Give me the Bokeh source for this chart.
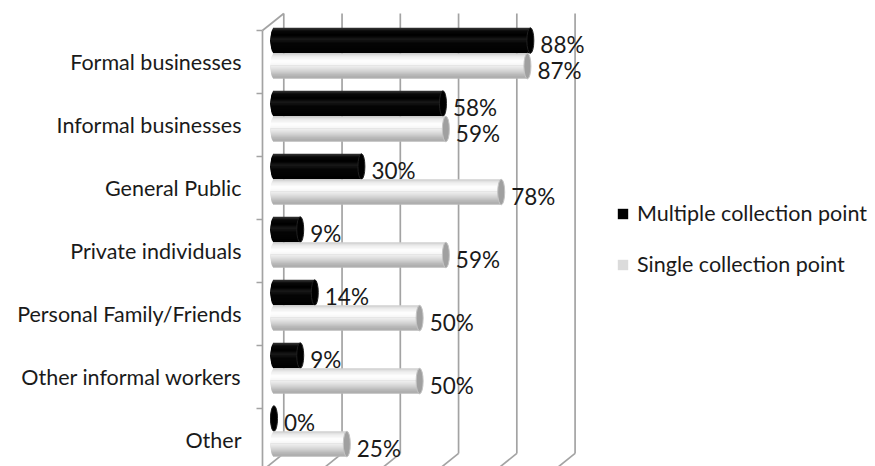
import numpy as np
from bokeh.plotting import figure
from bokeh.models import Range1d, FixedTicker, ColumnDataSource, Legend, LegendItem
from bokeh.core.properties import value
from bokeh.embed import file_html
from bokeh.resources import INLINE

# ---------------- data ----------------
categories = ["Formal businesses", "Informal businesses", "General Public",
              "Private individuals", "Personal Family/Friends",
              "Other informal workers", "Other"]
multiple = [88, 58, 30, 9, 14, 9, 0]
single = [87, 59, 78, 59, 50, 50, 25]
series_names = ["Multiple collection point", "Single collection point"]
grid_values = [0, 20, 40, 60, 80, 100]

# ---------------- style ----------------
FONT = "Lato"
TXT = "#1a1a1a"
GRID = "#a3a3a3"
BAR_H = 0.405
CENTER = [0.16, 0.565]          # bar centre inside a category band
CAP_A = 1.2                      # half width of end ellipse (x units)
BACK_DX, FRONT_DX = 3.36, -3.95  # 3-D depth offsets (x units)
BACK_TOP, BACK_BOTTOM, DEPTH_Y = -0.27, 6.714, 0.27
N = 24

black_stops = [(0.0, "#3a3a3a"), (0.12, "#080808"), (0.3, "#000000"),
               (0.45, "#1a1a1a"), (0.6, "#050505"), (1.0, "#000000")]
gray_stops = [(0.0, "#cccccc"), (0.12, "#ebebeb"), (0.3, "#ffffff"),
              (0.45, "#f6f6f6"), (0.65, "#dadada"), (0.85, "#b8b8b8"),
              (0.95, "#aaaaaa"), (1.0, "#c0c0c0")]
cap_colors = ["#000000", "#a0a0a0"]
cap_lines = ["#202020", "#c4c4c4"]
legend_colors = ["#000000", "#d9d9d9"]


def hex2rgb(c):
    return np.array([int(c[1:3], 16), int(c[3:5], 16), int(c[5:7], 16)])


def shade(stops, t):
    ts = [s[0] for s in stops]
    rgb = np.array([hex2rgb(c) for _, c in stops])
    out = [int(round(np.interp(t, ts, rgb[:, k]))) for k in range(3)]
    return "#%02x%02x%02x" % tuple(out)


p = figure(width=875, height=466, output_backend="svg", toolbar_location=None,
           x_range=Range1d(-4.634, 206.49), y_range=Range1d(6.921, -0.476),
           x_axis_location=None, min_border_left=260, min_border_right=0,
           min_border_top=0, min_border_bottom=0)
p.outline_line_color = None
p.xgrid.visible = False
p.ygrid.visible = False
p.background_fill_color = "white"

# ---------------- walls / gridlines ----------------
gx0, gy0, gx1, gy1 = [], [], [], []
for g in grid_values:
    gx0 += [g + BACK_DX, g + BACK_DX]
    gy0 += [BACK_TOP, BACK_BOTTOM]
    gx1 += [g + BACK_DX, g + FRONT_DX]
    gy1 += [BACK_BOTTOM, BACK_BOTTOM + DEPTH_Y]
gx0 += [grid_values[0] + BACK_DX, FRONT_DX]
gy0 += [BACK_TOP, 0]
gx1 += [FRONT_DX, FRONT_DX]
gy1 += [0, len(categories) + 0.2]
p.segment(x0=gx0, y0=gy0, x1=gx1, y1=gy1, line_color=GRID, line_width=1.7)

# ---------------- cylinder bars ----------------
u = (np.arange(N) + 0.5) / N
edges = np.arange(N) / N
order = [i for i in range(N // 2)] + [i for i in range(N - 1, N // 2 - 1, -1)]
legend_idx = []
bar_renderers = []
for s, (vals, stops) in enumerate([(multiple, black_stops), (single, gray_stops)]):
    ys, hs, lefts, rights, cols = [], [], [], [], []
    for g, v in enumerate(vals):
        yc = g + CENTER[s]
        top = yc - BAR_H / 2
        mid = yc
        for i in order:
            if i < N // 2:
                a, b = top + edges[i] * BAR_H, mid + 0.01
            else:
                a, b = mid - 0.01, top + (edges[i] + 1.0 / N) * BAR_H
            ys.append((a + b) / 2)
            hs.append(b - a)
            lefts.append(-CAP_A * np.sqrt(max(0.0, 1 - (2 * u[i] - 1) ** 2)))
            rights.append(v)
            cols.append(shade(stops, u[i]))
    target = hex2rgb(legend_colors[s])
    legend_idx.append(int(np.argmin([np.abs(hex2rgb(c) - target).sum() for c in cols])))
    src = ColumnDataSource(dict(y=ys, h=hs, left=lefts, right=rights, color=cols))
    r = p.hbar(y="y", left="left", right="right", height="h",
               fill_color="color", line_color=None, source=src)
    bar_renderers.append(r)
    p.ellipse(x=vals, y=[g + CENTER[s] for g in range(len(vals))],
              width=2 * CAP_A, height=BAR_H, fill_color=cap_colors[s],
              line_color=cap_lines[s], line_width=1)
    p.text(x=vals, y=[g + CENTER[s] for g in range(len(vals))],
           text=[f"{v}%" for v in vals], x_offset=10, y_offset=4,
           text_align="left", text_baseline="middle",
           text_font=value(FONT), text_font_size="22.5px", text_color=TXT)

# ---------------- axis ----------------
ax = p.yaxis[0]
ax.ticker = FixedTicker(ticks=[i + 0.5 for i in range(len(categories))],
                        minor_ticks=list(range(len(categories) + 1)))
ax.major_label_overrides = {i + 0.5: c for i, c in enumerate(categories)}
ax.axis_line_color = None
ax.major_tick_line_color = None
ax.major_tick_out = 0
ax.major_tick_in = 0
ax.minor_tick_line_color = GRID
ax.minor_tick_line_width = 1.5
ax.minor_tick_out = 4
ax.minor_tick_in = 2
ax.major_label_standoff = 15
ax.major_label_text_font = FONT
ax.major_label_text_font_size = "21.5px"
ax.major_label_text_color = TXT

# ---------------- legend ----------------
items = [LegendItem(label=name, renderers=[r], index=k)
         for name, r, k in zip(series_names, bar_renderers, legend_idx)]
legend = Legend(items=items, location=(356, 189), orientation="vertical",
                border_line_color=None, background_fill_alpha=0,
                padding=0, margin=0, spacing=25, glyph_width=13, glyph_height=13,
                label_standoff=8, label_height=26,
                label_text_font=FONT, label_text_font_size="21.5px",
                label_text_color=TXT)
p.add_layout(legend, "center")

open("out.html", "w").write(file_html(p, INLINE))
